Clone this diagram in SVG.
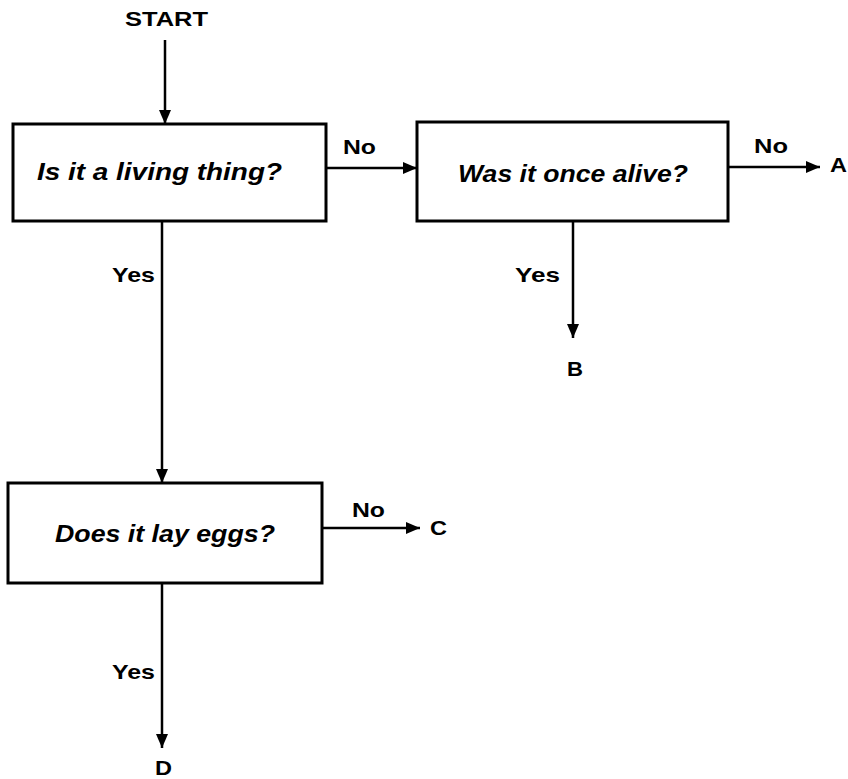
<svg xmlns="http://www.w3.org/2000/svg" width="848" height="779" viewBox="0 0 848 779">
<style>
.box{fill:#fff;stroke:#000;stroke-width:3}
.q{font-family:"Liberation Sans",Arial,sans-serif;font-weight:bold;font-style:italic;font-size:24px}
.lbl{font-family:"Liberation Sans",Arial,sans-serif;font-weight:bold;font-size:21px}
.c{stroke:#000;stroke-width:2.5;fill:none;marker-end:url(#ah)}
</style>
<defs>
<marker id="ah" viewBox="0 0 14 12" refX="14" refY="6" markerWidth="14" markerHeight="12" markerUnits="userSpaceOnUse" orient="auto">
<path d="M0,0 L14,6 L0,12 Z" fill="#000"/>
</marker>
</defs>
<rect width="848" height="779" fill="#fff"/>
<g id="connectors">
<line class="c" x1="165" y1="40" x2="165" y2="124"/>
<line class="c" x1="326" y1="168" x2="417" y2="168"/>
<line class="c" x1="728" y1="167" x2="820" y2="167"/>
<line class="c" x1="573" y1="221" x2="573" y2="338"/>
<line class="c" x1="162" y1="221" x2="162" y2="483"/>
<line class="c" x1="322" y1="528" x2="420" y2="528"/>
<line class="c" x1="162" y1="583" x2="162" y2="748"/>
<text class="lbl" x="343" y="154" textLength="33" lengthAdjust="spacingAndGlyphs">No</text>
<text class="lbl" x="754" y="153" textLength="34" lengthAdjust="spacingAndGlyphs">No</text>
<text class="lbl" x="515" y="282" textLength="45" lengthAdjust="spacingAndGlyphs">Yes</text>
<text class="lbl" x="112" y="282" textLength="43" lengthAdjust="spacingAndGlyphs">Yes</text>
<text class="lbl" x="352" y="517" textLength="33" lengthAdjust="spacingAndGlyphs">No</text>
<text class="lbl" x="112" y="679" textLength="43" lengthAdjust="spacingAndGlyphs">Yes</text>
</g>
<g id="start"><text class="lbl" x="125" y="26" textLength="83" lengthAdjust="spacingAndGlyphs">START</text></g>
<g id="n1"><rect class="box" x="13" y="124" width="313" height="97"/><text class="q" x="37" y="180" textLength="245" lengthAdjust="spacingAndGlyphs">Is it a living thing?</text></g>
<g id="n2"><rect class="box" x="417" y="122" width="311" height="99"/><text class="q" x="458" y="182" textLength="230" lengthAdjust="spacingAndGlyphs">Was it once alive?</text></g>
<g id="n3"><rect class="box" x="8" y="483" width="314" height="100"/><text class="q" x="55" y="542" textLength="220" lengthAdjust="spacingAndGlyphs">Does it lay eggs?</text></g>
<g id="A"><text class="lbl" x="830" y="172" textLength="17" lengthAdjust="spacingAndGlyphs">A</text></g>
<g id="B"><text class="lbl" x="567" y="376" textLength="16" lengthAdjust="spacingAndGlyphs">B</text></g>
<g id="C"><text class="lbl" x="430" y="535" textLength="17" lengthAdjust="spacingAndGlyphs">C</text></g>
<g id="D"><text class="lbl" x="155" y="775" textLength="17" lengthAdjust="spacingAndGlyphs">D</text></g>
</svg>
